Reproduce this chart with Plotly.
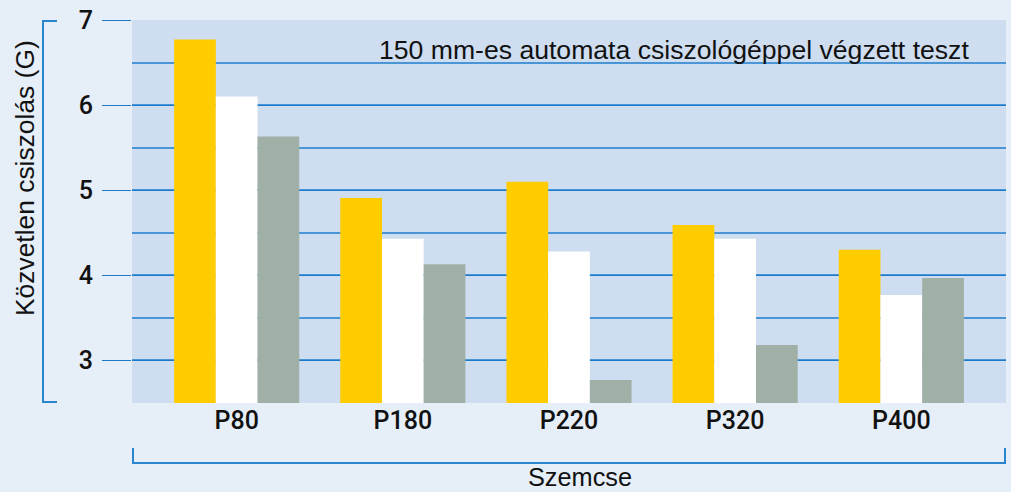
import plotly.graph_objects as go

categories = ["P80", "P180", "P220", "P320", "P400"]
series_yellow = [6.77, 4.91, 5.10, 4.59, 4.30]
series_white = [6.10, 4.43, 4.28, 4.43, 3.77]
series_grey = [5.63, 4.13, 2.77, 3.18, 3.97]
y_ticks = [3, 4, 5, 6, 7]

colors = ["#FFCC00", "#FFFFFF", "#A0B0A7"]

W, H = 1011, 492
L, R, T, B = 132, 5, 20, 89
pw = W - L - R
ph = H - T - B

def px_x(x):
    return (x - L) / pw

def px_y(y):
    return (H - B - y) / ph

fig = go.Figure()
for vals, c in zip([series_yellow, series_white, series_grey], colors):
    fig.add_trace(go.Bar(x=categories, y=vals, marker=dict(color=c, line=dict(width=0)),
                         showlegend=False, hoverinfo="skip"))

blue = "#2a86cc"
shapes = [
    # left bracket
    dict(type="line", xref="paper", yref="paper", x0=px_x(43), x1=px_x(43), y0=px_y(21), y1=px_y(402),
         line=dict(color=blue, width=2)),
    dict(type="line", xref="paper", yref="paper", x0=px_x(42), x1=px_x(57), y0=px_y(21), y1=px_y(21),
         line=dict(color=blue, width=2)),
    dict(type="line", xref="paper", yref="paper", x0=px_x(42), x1=px_x(57), y0=px_y(402), y1=px_y(402),
         line=dict(color=blue, width=2)),
    # bottom bracket
    dict(type="line", xref="paper", yref="paper", x0=px_x(133), x1=px_x(1006), y0=px_y(463), y1=px_y(463),
         line=dict(color=blue, width=2)),
    dict(type="line", xref="paper", yref="paper", x0=px_x(133), x1=px_x(133), y0=px_y(448), y1=px_y(464),
         line=dict(color=blue, width=2)),
    dict(type="line", xref="paper", yref="paper", x0=px_x(1005), x1=px_x(1005), y0=px_y(448), y1=px_y(464),
         line=dict(color=blue, width=2)),
]

annotations = [
    dict(text="150 mm-es automata csiszológéppel végzett teszt", xref="paper", yref="paper",
         x=px_x(674), y=px_y(50), xanchor="center", yanchor="middle", showarrow=False,
         font=dict(family="Liberation Sans, Arial", size=26.6, color="#111111")),
    dict(text="Közvetlen csiszolás (G)", xref="paper", yref="paper",
         x=px_x(25), y=px_y(178), xanchor="center", yanchor="middle", textangle=-90, showarrow=False,
         font=dict(family="Liberation Sans, Arial", size=26.4, color="#111111")),
    dict(text="Szemcse", xref="paper", yref="paper",
         x=px_x(580), y=px_y(477), xanchor="center", yanchor="middle", showarrow=False,
         font=dict(family="Liberation Sans, Arial", size=25.3, color="#111111")),
]

fig.update_layout(
    width=W, height=H,
    margin=dict(l=L, r=R, t=T, b=B, pad=0),
    paper_bgcolor="#E6EEF8",
    plot_bgcolor="#CEDDF0",
    barmode="group",
    bargap=0.247,
    bargroupgap=0,
    shapes=shapes,
    annotations=annotations,
    xaxis=dict(type="category", range=[-0.63, 4.63], showgrid=False, showline=False, zeroline=False,
               ticks="", tickfont=dict(family="Roboto", size=25, color="#111111", weight=500)),
    yaxis=dict(range=[2.5, 7], tickvals=y_ticks, ticktext=[str(v) for v in y_ticks],
               showgrid=True, gridcolor="#1a7acc", gridwidth=1.3,
               ticks="outside", ticklen=29, tickcolor="#1a7acc", tickwidth=1.3,
               showline=False, zeroline=False, ticklabelstandoff=4,
               tickfont=dict(family="Roboto", size=25, color="#111111", weight=500),
               minor=dict(dtick=0.5, tick0=2.5, showgrid=True, gridcolor="#4a95d6", gridwidth=1.5, ticks="")),
)

fig.write_html("out.html", config={"displayModeBar": False},
               post_script="document.body.style.margin='0';document.body.style.padding='0';document.body.style.background='#E6EEF8';")
